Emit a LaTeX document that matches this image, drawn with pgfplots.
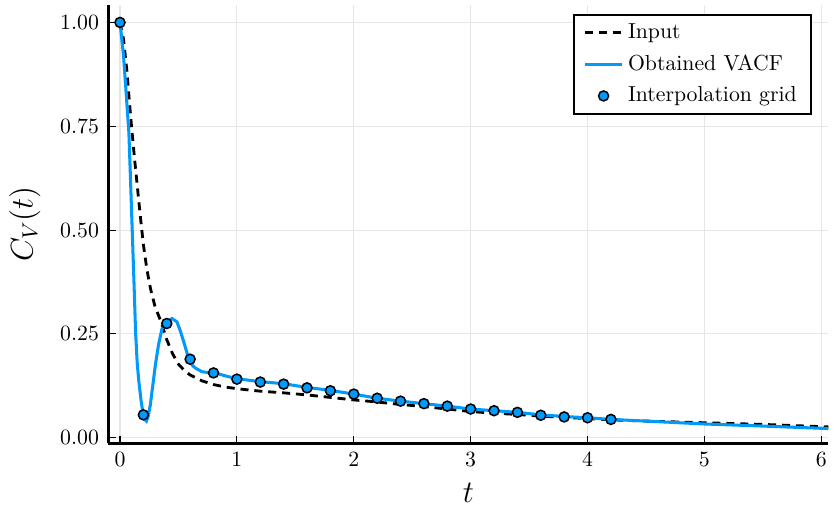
\documentclass[border=0pt]{standalone}
\usepackage{pgfplots}
\pgfplotsset{compat=1.18}
\definecolor{jblue}{RGB}{0,154,250}
\definecolor{gridgray}{RGB}{230,230,230}
\begin{document}
\begin{tikzpicture}
\begin{axis}[
  scale only axis,
  width=331pt, height=201.5pt,
  xmin=-0.1, xmax=6.06,
  ymin=-0.0135, ymax=1.042,
  axis x line=bottom, axis y line=left,
  axis line style={-, line width=1.3pt, line cap=butt},
  xtick={0,1,2,3,4,5,6},
  ytick={0,0.25,0.5,0.75,1},
  yticklabel style={/pgf/number format/fixed, /pgf/number format/fixed zerofill, /pgf/number format/precision=2, xshift=-0.8pt},
  xticklabel style={yshift=-0.8pt},
  tick align=inside,
  major tick length=3.5pt,
  tick style={black, line width=0.5pt},
  grid=major,
  major grid style={gridgray, line width=0.5pt},
  xlabel={\Large $t$},
  ylabel={\Large $C_V(t)$},
  xlabel style={at={(axis description cs:0.5,-0.1132)}, anchor=center, inner sep=0pt},
  ylabel style={at={(axis description cs:-0.116,0.5)}, anchor=center, inner sep=0pt},
  legend cell align=left,
  legend style={at={(axis description cs:1,1)}, anchor=north east, xshift=-7.5pt, yshift=-4.1pt, draw=black, line width=1pt, font=\normalsize, row sep=2pt, inner xsep=4.5pt,
    /tikz/every even column/.append style={column sep=2.5pt}},
]
\addplot[black, line width=1.3pt, dash pattern=on 3.7pt off 2.7pt] coordinates {
(0.00,1.000) (0.03,0.960) (0.06,0.880) (0.08,0.810) (0.10,0.745) (0.125,0.670)
(0.15,0.600) (0.175,0.530) (0.20,0.465) (0.23,0.405) (0.26,0.360) (0.30,0.315)
(0.35,0.280) (0.40,0.236) (0.45,0.202) (0.50,0.177) (0.55,0.162) (0.60,0.151)
(0.70,0.137) (0.80,0.128) (0.90,0.122) (1.00,0.118) (1.20,0.112) (1.40,0.108)
(1.60,0.103) (1.80,0.097) (2.00,0.091) (2.20,0.086) (2.40,0.080) (2.60,0.075)
(2.80,0.069) (3.00,0.063) (3.20,0.059) (3.40,0.056) (3.60,0.052) (3.80,0.049)
(4.00,0.046) (4.20,0.043) (4.50,0.040) (5.00,0.036) (5.50,0.032) (6.06,0.026)
};
\addlegendentry{Input}
\addplot[jblue, line width=1.4pt] coordinates {
(0.00,1.000) (0.03,0.920) (0.05,0.840) (0.076,0.734) (0.09,0.620) (0.105,0.495)
(0.12,0.370) (0.133,0.256) (0.147,0.180) (0.161,0.136) (0.18,0.090) (0.198,0.056)
(0.215,0.043) (0.226,0.040) (0.24,0.050) (0.26,0.080) (0.28,0.125) (0.303,0.176)
(0.33,0.225) (0.36,0.263) (0.40,0.279) (0.445,0.287) (0.487,0.279) (0.515,0.258)
(0.544,0.232) (0.586,0.192) (0.62,0.174) (0.643,0.168) (0.70,0.159) (0.75,0.157)
(0.80,0.157) (0.90,0.149) (1.00,0.142) (1.20,0.135) (1.40,0.130) (1.60,0.121)
(1.80,0.114) (2.00,0.105) (2.20,0.095) (2.40,0.088) (2.60,0.082) (2.80,0.076)
(3.00,0.069) (3.20,0.065) (3.40,0.061) (3.60,0.055) (3.80,0.051) (4.00,0.048)
(4.20,0.044) (4.50,0.040) (5.00,0.033) (5.50,0.028) (6.06,0.022)
};
\addlegendentry{Obtained VACF}
\addplot[only marks, mark=*, mark size=2.3pt, mark options={fill=jblue, draw=black, line width=0.7pt}] coordinates {
(0,1.000) (0.2,0.055) (0.4,0.275) (0.6,0.189) (0.8,0.156) (1.0,0.141)
(1.2,0.134) (1.4,0.129) (1.6,0.120) (1.8,0.113) (2.0,0.105) (2.2,0.095)
(2.4,0.088) (2.6,0.082) (2.8,0.076) (3.0,0.069) (3.2,0.065) (3.4,0.061)
(3.6,0.054) (3.8,0.050) (4.0,0.048) (4.2,0.044)
};
\addlegendentry{Interpolation grid}
\coordinate (sw) at (rel axis cs:0,0);
\coordinate (ne) at (rel axis cs:1,1);
\end{axis}
\path ([xshift=-49.8pt,yshift=-31pt]sw) ([yshift=2.3pt]ne);
\end{tikzpicture}
\end{document}
